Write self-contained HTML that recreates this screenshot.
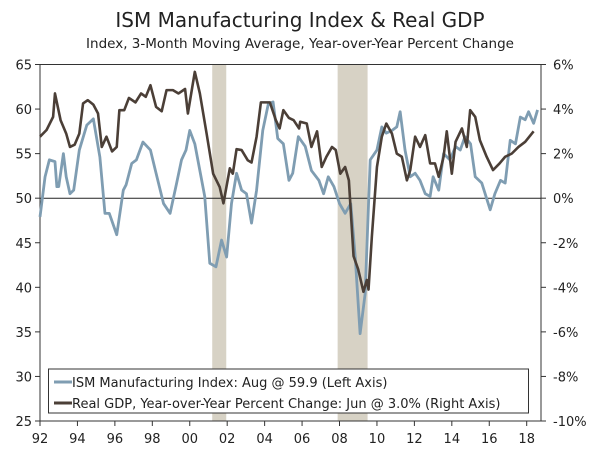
<!DOCTYPE html>
<html><head><meta charset="utf-8"><style>
body{margin:0;background:#fff;}
svg text{font-family:"DejaVu Sans","Liberation Sans",sans-serif;fill:#222;}
</style></head><body>
<svg id="c" width="600" height="452">
<text x="300" y="27" text-anchor="middle" font-size="20">ISM Manufacturing Index &amp; Real GDP</text>
<text x="300" y="48" text-anchor="middle" font-size="13.5">Index, 3-Month Moving Average, Year-over-Year Percent Change</text>
<g id="g"></g>
</svg>
<script>
const ismYears=[92.0,92.27,92.5,92.8,92.9,93.0,93.25,93.4,93.6,93.8,94.1,94.5,94.85,95.2,95.47,95.7,96.1,96.45,96.6,96.9,97.15,97.5,97.9,98.2,98.6,98.95,99.3,99.56,99.8,100.0,100.27,100.54,100.8,101.07,101.4,101.7,101.97,102.23,102.5,102.77,103.03,103.3,103.57,103.9,104.2,104.45,104.7,105.0,105.3,105.5,105.8,106.17,106.5,106.9,107.15,107.4,107.7,108.0,108.3,108.6,108.84,109.1,109.37,109.64,110.0,110.26,110.5,110.8,111.06,111.24,111.5,111.78,112.04,112.3,112.58,112.84,113.0,113.3,113.56,113.9,114.2,114.45,114.7,115.0,115.25,115.6,116.05,116.3,116.6,116.85,117.12,117.4,117.66,117.92,118.1,118.37,118.58];
const ismValues=[47.9,52.4,54.3,54.1,51.3,51.3,55.0,52.4,50.5,50.9,55.4,58.2,58.9,54.6,48.3,48.3,45.9,50.9,51.5,53.9,54.3,56.3,55.4,52.8,49.4,48.3,51.7,54.3,55.4,57.6,56.1,53.1,50.2,42.7,42.3,45.3,43.4,49.4,52.8,50.9,50.5,47.2,50.9,57.6,60.6,60.8,56.7,56.1,52.0,52.8,56.9,55.8,53.1,52.0,50.5,52.4,51.3,49.4,48.3,49.4,43.4,34.8,39.3,54.3,55.4,58.0,57.3,57.6,58.0,59.7,55.4,52.4,52.8,52.0,50.5,50.2,52.4,50.9,55.0,54.3,55.8,55.4,56.9,56.1,52.4,51.7,48.7,50.5,52.0,51.7,56.5,56.1,59.1,58.8,59.7,58.4,59.9];
const gdpYears=[92.0,92.35,92.7,92.8,93.1,93.4,93.6,93.85,94.1,94.3,94.55,94.85,95.1,95.3,95.55,95.85,96.1,96.24,96.5,96.75,97.1,97.4,97.65,97.9,98.2,98.5,98.76,99.1,99.4,99.75,99.9,100.27,100.54,100.9,101.25,101.6,101.8,102.14,102.3,102.5,102.77,103.1,103.3,103.57,103.8,104.28,104.6,104.8,105.0,105.3,105.55,105.84,105.9,106.25,106.5,106.8,107.05,107.3,107.6,107.8,108.04,108.3,108.5,108.75,109.0,109.28,109.46,109.55,109.73,110.0,110.26,110.5,110.8,111.06,111.33,111.6,111.78,112.04,112.3,112.58,112.84,113.1,113.3,113.56,113.73,114.0,114.2,114.54,114.8,114.98,115.25,115.5,115.86,116.2,116.55,116.85,117.2,117.56,117.92,118.37];
const gdpValues=[2.76,3.06,3.65,4.7,3.5,2.9,2.3,2.4,2.9,4.25,4.4,4.2,3.8,2.3,2.76,2.1,2.3,3.95,3.95,4.5,4.3,4.7,4.55,5.07,4.1,3.9,4.85,4.85,4.7,4.9,3.8,5.67,4.7,2.9,1.1,0.5,-0.23,1.34,1.1,2.2,2.16,1.7,1.6,2.76,4.3,4.3,3.5,3.13,3.95,3.6,3.5,3.13,3.43,3.35,2.3,3.0,1.4,1.86,2.3,2.16,1.1,1.4,0.8,-2.6,-3.2,-4.2,-3.67,-4.1,-1.7,1.4,2.76,3.35,2.9,2.0,1.86,0.8,1.26,2.76,2.3,2.83,1.56,1.56,0.96,1.86,3.0,1.1,2.53,3.13,2.3,3.95,3.65,2.6,1.86,1.26,1.56,1.86,2.0,2.3,2.53,3.0];
const recessions=[[101.2,101.95],[107.9,109.5]];
const leftTicks=[25,30,35,40,45,50,55,60,65];
const rightTicks=[-10,-8,-6,-4,-2,0,2,4,6];
const xTicks=[92,94,96,98,100,102,104,106,108,110,112,114,116,118];

const L=40,R=541,T=64.5,B=421;
const X=t=>L+(t-92)*(526.7-40)/26;
const YL=v=>B-(v-25)*(B-T)/40;
const YR=p=>B-(p+10)*(B-T)/16;
const g=document.getElementById('g');
const NS='http://www.w3.org/2000/svg';
function mk(tag,attrs){const e=document.createElementNS(NS,tag);for(const k in attrs)e.setAttribute(k,attrs[k]);g.appendChild(e);return e;}

recessions.forEach(r=>{
 const e=mk('rect',{x:X(r[0]),y:T,width:X(r[1])-X(r[0]),height:B-T,fill:'#d7d2c5'});
 
 
});
const fr=mk('rect',{x:L,y:T,width:R-L,height:B-T,fill:'none',stroke:'#333','stroke-width':1});


const zl=mk('line',{x1:L,x2:R,y1:YR(0),y2:YR(0),stroke:'#222','stroke-width':1});



leftTicks.forEach(v=>{
 mk('line',{x1:L-5,x2:L,y1:YL(v),y2:YL(v),stroke:'#333'});
 const t=mk('text',{x:L-8,y:YL(v)+5,'text-anchor':'end','font-size':13});t.textContent=v;
 
 
});
rightTicks.forEach(v=>{
 mk('line',{x1:R,x2:R+5,y1:YR(v),y2:YR(v),stroke:'#333'});
 const t=mk('text',{x:R+12,y:YR(v)+5,'font-size':13});t.textContent=v+'%';
 
 
});
xTicks.forEach(v=>{
 mk('line',{x1:X(v),x2:X(v),y1:B,y2:B+5,stroke:'#333'});
 const t=mk('text',{x:X(v),y:B+22,'text-anchor':'middle','font-size':13});t.textContent=String(v%100).padStart(2,'0');
 
 
});

const ism=mk('polyline',{points:ismYears.map((t,i)=>X(t)+','+YL(ismValues[i])).join(' '),fill:'none',stroke:'#7f9db2','stroke-width':2.8,'stroke-linejoin':'round'});


const gdp=mk('polyline',{points:gdpYears.map((t,i)=>X(t)+','+YR(gdpValues[i])).join(' '),fill:'none',stroke:'#4b3f37','stroke-width':2.6,'stroke-linejoin':'round'});



const lg=mk('rect',{x:48.5,y:369,width:480,height:44,fill:'#fff',stroke:'#333'});


[['#7f9db2','ISM Manufacturing Index: Aug @ 59.9 (Left Axis)',382],['#4b3f37','Real GDP, Year-over-Year Percent Change: Jun @ 3.0% (Right Axis)',403]].forEach(d=>{
 mk('line',{x1:54,x2:72,y1:d[2],y2:d[2],stroke:d[0],'stroke-width':3});
 const t=mk('text',{x:72,y:d[2]+5,'font-size':13});t.textContent=d[1];
 
 
});
</script>
</body></html>
